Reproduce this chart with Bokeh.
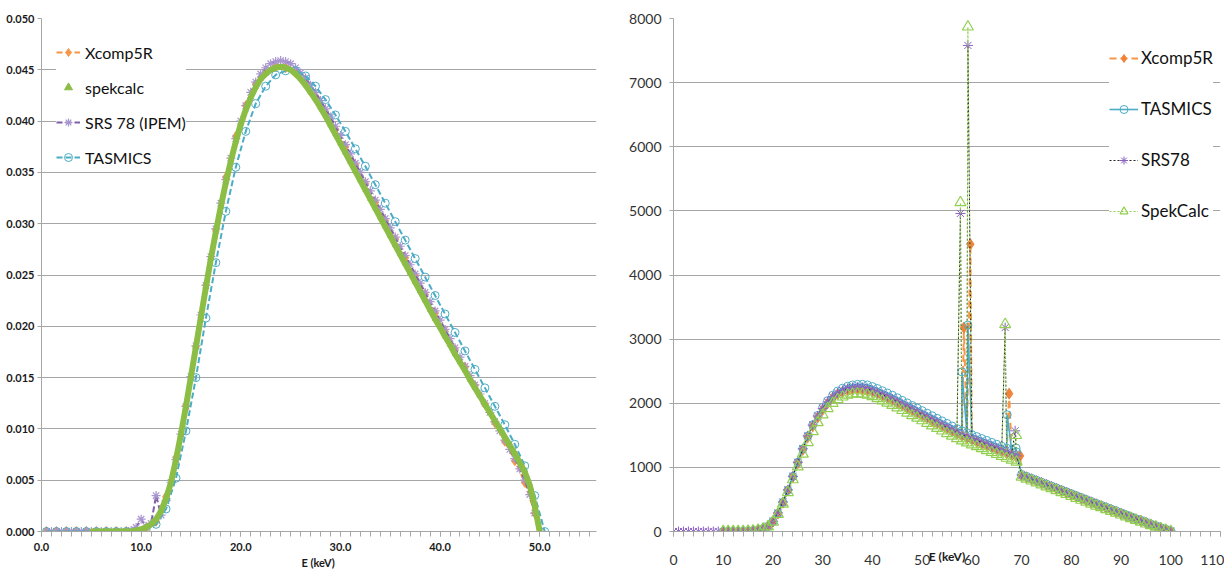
from bokeh.plotting import figure
from bokeh.layouts import row
from bokeh.models import (Range1d, FixedTicker, NumeralTickFormatter, Legend,
                          LegendItem, Title)
from bokeh.embed import file_html
from bokeh.resources import INLINE

FONT = "Lato"
GRID = "#a6a6a6"

# ---------------- Left panel data (E in keV, normalised fluence) ----------------
XCOMP_L_START, XCOMP_L_STEP = 0.5, 1.0
XCOMP_L = [0, 0, 0, 0, 0, 0, 0, 0, 0,
           0.0001, 0.0003, 0.0010, 0.0034, 0.0072, 0.0123, 0.0180, 0.0240, 0.0294, 0.0345,
           0.0385, 0.0415, 0.0436, 0.0448, 0.0453, 0.0452, 0.0447, 0.0437, 0.0424, 0.0409,
           0.0392, 0.0375, 0.0357, 0.0339, 0.0321, 0.0303, 0.0285, 0.0267, 0.0249, 0.0231,
           0.0213, 0.0195, 0.0177, 0.0160, 0.0142, 0.0124, 0.0106, 0.0088, 0.0069, 0.0048,
           0.0018]

SPEK_L_START, SPEK_L_STEP = 5.0, 0.5
SPEK_L = [0, 0, 0, 0, 0, 0, 0, 0, 0,
          0.0001, 0.0002, 0.0004, 0.0007, 0.0012, 0.0020, 0.0032, 0.0048, 0.0070, 0.0095,
          0.0122, 0.0151, 0.0180, 0.0209, 0.0238, 0.0266, 0.0292, 0.0317, 0.0340, 0.0361,
          0.0380, 0.0397, 0.0411, 0.0423, 0.0433, 0.0441, 0.0446, 0.0450, 0.0452, 0.0453,
          0.0452, 0.0450, 0.0446, 0.0441, 0.0435, 0.0428, 0.0421, 0.0413, 0.0405, 0.0396,
          0.0387, 0.0378, 0.0369, 0.0360, 0.0351, 0.0342, 0.0333, 0.0324, 0.0315, 0.0306,
          0.0297, 0.0288, 0.0279, 0.0270, 0.0261, 0.0252, 0.0243, 0.0234, 0.0225, 0.0216,
          0.0207, 0.0199, 0.0190, 0.0182, 0.0173, 0.0165, 0.0157, 0.0148, 0.0140, 0.0132,
          0.0124, 0.0116, 0.0108, 0.0100, 0.0092, 0.0084, 0.0076, 0.0067, 0.0058, 0.0045,
          0.0025, 0.0]

SRS_L_START, SRS_L_STEP = 0.5, 0.5
SRS_L = [0, 0, 0, 0, 0, 0, 0, 0, 0, 0, 0, 0, 0, 0, 0, 0, 0,
         0.0001, 0.0004, 0.0012, 0.0005, 0.0008, 0.0035, 0.0016, 0.0030, 0.0048, 0.0070,
         0.0095, 0.0122, 0.0151, 0.0181, 0.0211, 0.0240, 0.0268, 0.0295, 0.0320, 0.0343,
         0.0364, 0.0383, 0.0400, 0.0415, 0.0428, 0.0438, 0.0446, 0.0452, 0.0456, 0.0458,
         0.0459, 0.0458, 0.0456, 0.0452, 0.0447, 0.0442, 0.0435, 0.0428, 0.0420, 0.0412,
         0.0404, 0.0395, 0.0386, 0.0377, 0.0368, 0.0359, 0.0350, 0.0341, 0.0332, 0.0323,
         0.0314, 0.0305, 0.0296, 0.0287, 0.0278, 0.0269, 0.0260, 0.0251, 0.0242, 0.0233,
         0.0224, 0.0215, 0.0206, 0.0197, 0.0188, 0.0179, 0.0170, 0.0161, 0.0152, 0.0143,
         0.0134, 0.0125, 0.0116, 0.0107, 0.0098, 0.0089, 0.0080, 0.0071, 0.0061, 0.0050,
         0.0036, 0.0018, 0.0]

TAS_L_START, TAS_L_STEP = 0.5, 1.0
TAS_L = [0, 0, 0, 0, 0, 0, 0, 0, 0,
         0.0, 0.0002, 0.0007, 0.0022, 0.0052, 0.0098, 0.0150, 0.0208, 0.0262, 0.0312,
         0.0355, 0.0390, 0.0417, 0.0434, 0.0445, 0.0449, 0.0449, 0.0444, 0.0434, 0.0421,
         0.0406, 0.0390, 0.0373, 0.0356, 0.0338, 0.0320, 0.0302, 0.0284, 0.0266, 0.0248,
         0.0230, 0.0212, 0.0194, 0.0176, 0.0158, 0.0140, 0.0122, 0.0104, 0.0085, 0.0064,
         0.0035, 0.0]

LEFT_X_TICKS = [0, 10, 20, 30, 40, 50]
LEFT_Y_TICKS = [0.000, 0.005, 0.010, 0.015, 0.020, 0.025, 0.030, 0.035, 0.040, 0.045, 0.050]

# ---------------- Right panel data (E in keV, photons) ----------------
SRS_R_START = 0
SRS_R = [0, 0, 0, 0, 0, 0, 0, 0, 0, 0, 0, 0, 0, 0, 0,
         5, 10, 20, 40, 80, 160, 290, 460, 650, 860,
         1080, 1290, 1490, 1660, 1800, 1920, 2020, 2100, 2160, 2200,
         2230, 2245, 2250, 2245, 2230, 2200, 2170, 2135, 2100, 2065,
         2025, 1985, 1945, 1905, 1865, 1825, 1785, 1745, 1705, 1665,
         1625, 1585, 1545, 1510, 1480, 1450, 1420, 1390, 1360, 1330,
         1300, 1270, 1240, 1210, 1180, 880, 850, 820, 790, 760,
         730, 700, 670, 640, 610, 580, 550, 520, 490, 460,
         430, 400, 370, 340, 310, 285, 255, 225, 195, 170,
         140, 110, 85, 55, 30, 5]
SRS_PEAK_E = [57.7, 59.2, 66.7, 68.7]
SRS_PEAK_V = [4960, 7580, 3180, 1570]

SPEK_R_START = 10
SPEK_R = [0, 0, 0, 0, 0,
          5, 10, 20, 40, 75, 150, 270, 430, 610, 810,
          1010, 1210, 1390, 1560, 1700, 1820, 1920, 2000, 2060, 2100,
          2130, 2145, 2150, 2145, 2130, 2105, 2075, 2040, 2005, 1970,
          1930, 1890, 1850, 1810, 1770, 1730, 1690, 1650, 1610, 1570,
          1530, 1490, 1450, 1415, 1385, 1355, 1325, 1295, 1265, 1235,
          1205, 1175, 1145, 1115, 1085, 850, 820, 790, 760, 730,
          700, 670, 640, 610, 580, 550, 520, 490, 460, 430,
          400, 375, 345, 315, 290, 260, 230, 205, 175, 150,
          120, 95, 70, 45, 20, 0]
SPEK_PEAK_E = [57.7, 59.2, 66.7, 68.9]
SPEK_PEAK_V = [5130, 7870, 3230, 1500]

XCOMP_R_START = 10
XCOMP_R = [0, 0, 0, 0, 0,
           5, 10, 20, 40, 80, 155, 280, 450, 640, 850,
           1065, 1275, 1470, 1640, 1780, 1900, 2000, 2080, 2140, 2180,
           2205, 2220, 2225, 2220, 2205, 2180, 2150, 2115, 2080, 2045,
           2005, 1965, 1925, 1885, 1845, 1805, 1765, 1725, 1685, 1645,
           1605, 1565, 1525, 1490, 1460, 1430, 1400, 1370, 1340, 1310,
           1280, 1250, 1220, 1190, 1160, 870, 845, 815, 785, 755,
           725, 695, 665, 635, 605, 575, 545, 515, 485, 455,
           425, 395, 365, 335, 305, 280, 250, 220, 190, 165,
           135, 105, 80, 50, 25, 0]
XCOMP_PEAK_E = [58.4, 59.7, 67.5, 69.7]
XCOMP_PEAK_V = [3180, 4480, 2150, 1180]

TAS_R_START = 10
TAS_R = [0, 0, 0, 0, 0,
         5, 10, 20, 40, 80, 160, 285, 455, 645, 860,
         1080, 1290, 1490, 1665, 1810, 1935, 2040, 2125, 2190, 2235,
         2265, 2285, 2295, 2295, 2285, 2260, 2230, 2195, 2160, 2125,
         2085, 2045, 2005, 1965, 1925, 1885, 1845, 1805, 1765, 1725,
         1685, 1645, 1605, 1570, 1540, 1510, 1480, 1450, 1420, 1390,
         1360, 1330, 1300, 1270, 1240, 890, 860, 830, 800, 770,
         740, 710, 680, 650, 620, 590, 560, 530, 500, 470,
         440, 410, 380, 350, 320, 290, 260, 230, 200, 175,
         145, 115, 90, 60, 35, 10]
TAS_PEAK_E = [58.0, 59.2, 67.1, 68.9]
TAS_PEAK_V = [2490, 3220, 1820, 1300]

RIGHT_X_TICKS = [0, 10, 20, 30, 40, 50, 60, 70, 80, 90, 100, 110]
RIGHT_Y_TICKS = [0, 1000, 2000, 3000, 4000, 5000, 6000, 7000, 8000]


def grid_series(start, step, vals):
    return [start + step * i for i in range(len(vals))], vals


def with_peaks(start, vals, pe, pv):
    pts = [(start + i, v) for i, v in enumerate(vals)] + list(zip(pe, pv))
    pts.sort(key=lambda t: t[0])
    return [p[0] for p in pts], [p[1] for p in pts]


def style_axes(p, xfont, yfont, bold, color):
    for ax in (p.xaxis[0], p.yaxis[0]):
        ax.axis_line_color = GRID
        ax.major_tick_line_color = GRID
        ax.minor_tick_line_color = GRID
        ax.major_tick_in = 0
        ax.minor_tick_in = 0
        ax.major_label_text_font = FONT
        ax.major_label_text_color = color
        ax.major_label_text_font_style = "bold" if bold else "normal"
    p.xaxis[0].major_label_text_font_size = xfont
    p.yaxis[0].major_label_text_font_size = yfont
    p.xgrid.visible = False
    p.ygrid.grid_line_color = GRID
    p.ygrid.grid_line_width = 1
    p.outline_line_color = None
    p.background_fill_color = "white"
    p.border_fill_color = "white"


H = 572

# ---------------- Left figure ----------------
p1 = figure(width=606, height=H, output_backend="svg", toolbar_location=None,
            x_range=Range1d(0, 55.7), y_range=Range1d(0, 0.050),
            min_border_left=41, min_border_right=10, min_border_top=18,
            min_border_bottom=H - 18 - 513)
style_axes(p1, "11px", "11px", True, "#1a1a1a")
p1.xaxis[0].ticker = FixedTicker(ticks=LEFT_X_TICKS, minor_ticks=list(range(0, 56)))
p1.xaxis[0].formatter = NumeralTickFormatter(format="0.0")
p1.xaxis[0].major_tick_out = 5
p1.xaxis[0].minor_tick_out = 5
p1.xaxis[0].major_label_standoff = 6
p1.yaxis[0].ticker = FixedTicker(ticks=LEFT_Y_TICKS, minor_ticks=[])
p1.yaxis[0].formatter = NumeralTickFormatter(format="0.000")
p1.yaxis[0].major_tick_out = 4
p1.yaxis[0].major_label_standoff = 3

ORANGE = "#f79646"
PURPLE = "#7f5fa8"
LAVENDER = "#a995cf"
BLUE = "#4bacc6"
GREEN = "#8cbd45"

ex, ey = grid_series(XCOMP_L_START, XCOMP_L_STEP, XCOMP_L)
l_x = p1.line(ex, ey, line_color=ORANGE, line_width=2, line_dash="6 3")
m_x = p1.scatter(ex, ey, marker="diamond", size=10, fill_color=ORANGE, line_color=ORANGE)

sx, sy = grid_series(SRS_L_START, SRS_L_STEP, SRS_L)
l_s = p1.line(sx, sy, line_color=PURPLE, line_width=2, line_dash="6 3")
m_s = p1.scatter(sx, sy, marker="asterisk", size=9, line_color=LAVENDER, line_width=1.2)

tx, ty = grid_series(TAS_L_START, TAS_L_STEP, TAS_L)
l_t = p1.line(tx, ty, line_color=BLUE, line_width=2, line_dash="6 3")
m_t = p1.scatter(tx, ty, marker="circle", size=8, fill_alpha=0.0,
                 line_color=BLUE, line_width=1)

gx, gy = grid_series(SPEK_L_START, SPEK_L_STEP, SPEK_L)
l_g = p1.line(gx, gy, line_color=GREEN, line_width=6)
m_g = p1.scatter(gx, gy, marker="triangle", size=5, fill_color=GREEN, line_color=GREEN)

leg1 = Legend(items=[
    LegendItem(label="Xcomp5R", renderers=[l_x, m_x]),
    LegendItem(label="spekcalc", renderers=[m_g]),
    LegendItem(label="SRS 78 (IPEM)", renderers=[l_s, m_s]),
    LegendItem(label="TASMICS", renderers=[l_t, m_t]),
], location=(15, 364), orientation="vertical")
leg1.label_text_font = FONT
leg1.label_text_font_size = "16px"
leg1.label_text_color = "#111111"
leg1.glyph_width = 24
leg1.glyph_height = 20
leg1.label_height = 20
leg1.spacing = 15
leg1.padding = 5
leg1.margin = 0
leg1.label_standoff = 5
leg1.border_line_color = None
leg1.background_fill_color = "white"
leg1.background_fill_alpha = 1.0
p1.add_layout(leg1)

p1.add_layout(Title(text="E (keV)", align="left", offset=260, standoff=0,
                    text_font=FONT, text_font_size="11px", text_font_style="bold",
                    text_color="#1a1a1a"), "below")

# ---------------- Right figure ----------------
p2 = figure(width=618, height=H, output_backend="svg", toolbar_location=None,
            x_range=Range1d(0, 110), y_range=Range1d(0, 8000),
            min_border_left=67, min_border_right=4, min_border_top=18,
            min_border_bottom=H - 18 - 516)
style_axes(p2, "14px", "14px", False, "#333333")
p2.xaxis[0].ticker = FixedTicker(ticks=RIGHT_X_TICKS, minor_ticks=list(range(0, 111, 2)))
p2.xaxis[0].major_tick_out = 5
p2.xaxis[0].minor_tick_out = 5
p2.xaxis[0].major_label_standoff = 18
p2.xaxis[0].axis_label = "E (keV)"
p2.xaxis[0].axis_label_text_font = FONT
p2.xaxis[0].axis_label_text_font_size = "12px"
p2.xaxis[0].axis_label_text_font_style = "bold"
p2.xaxis[0].axis_label_text_color = "#1a1a1a"
p2.xaxis[0].axis_label_standoff = -19
p2.yaxis[0].ticker = FixedTicker(ticks=RIGHT_Y_TICKS, minor_ticks=[])
p2.yaxis[0].major_tick_out = 4
p2.yaxis[0].major_label_standoff = 8

GREEN_R = "#92d050"

xx, xy = with_peaks(XCOMP_R_START, XCOMP_R, XCOMP_PEAK_E, XCOMP_PEAK_V)
rl_x = p2.line(xx, xy, line_color=ORANGE, line_width=2, line_dash="7 4")
rm_x = p2.scatter(xx, xy, marker="diamond", size=11, fill_color="#f0823a", line_color="#f0823a")

tx2, ty2 = with_peaks(TAS_R_START, TAS_R, TAS_PEAK_E, TAS_PEAK_V)
rl_t = p2.line(tx2, ty2, line_color=BLUE, line_width=1.6)
rm_t = p2.scatter(tx2, ty2, marker="circle", size=8, fill_alpha=0.0, line_color=BLUE,
                  line_width=1)

sx2, sy2 = with_peaks(SRS_R_START, SRS_R, SRS_PEAK_E, SRS_PEAK_V)
rl_s = p2.line(sx2, sy2, line_color="#222222", line_width=1, line_dash="2 2")
rm_s = p2.scatter(sx2, sy2, marker="asterisk", size=10, line_color="#8a5fc8", line_width=1)

gx2, gy2 = with_peaks(SPEK_R_START, SPEK_R, SPEK_PEAK_E, SPEK_PEAK_V)
rl_g = p2.line(gx2, gy2, line_color=GREEN_R, line_width=1, line_dash="2 2")
rm_g = p2.scatter(gx2, gy2, marker="triangle", size=11, fill_alpha=0.0,
                  line_color=GREEN_R, line_width=1.2)

leg2 = Legend(items=[
    LegendItem(label="Xcomp5R", renderers=[rl_x, rm_x]),
    LegendItem(label="TASMICS", renderers=[rl_t, rm_t]),
    LegendItem(label="SRS78", renderers=[rl_s, rm_s]),
    LegendItem(label="SpekCalc", renderers=[rl_g, rm_g]),
], location=(436, 310), orientation="vertical")
leg2.label_text_font = FONT
leg2.label_text_font_size = "17px"
leg2.label_text_color = "#111111"
leg2.glyph_width = 29
leg2.glyph_height = 20
leg2.label_height = 20
leg2.spacing = 30
leg2.padding = 5
leg2.margin = 0
leg2.label_standoff = 3
leg2.border_line_color = None
leg2.background_fill_color = "white"
leg2.background_fill_alpha = 1.0
p2.add_layout(leg2)

layout = row(p1, p2)
open("out.html", "w").write(file_html(layout, INLINE))
